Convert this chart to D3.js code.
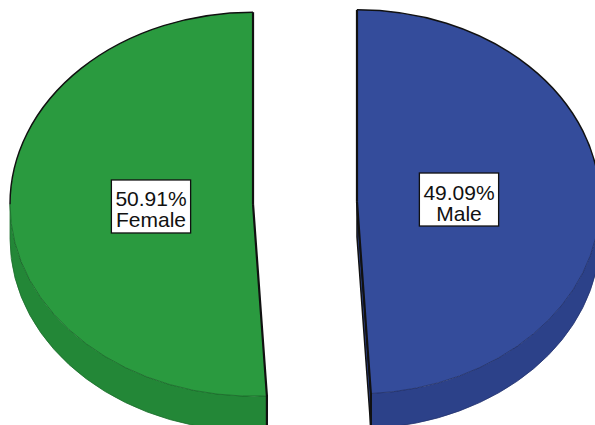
<!DOCTYPE html>
<html>
<head>
<meta charset="utf-8">
<script src="https://cdn.jsdelivr.net/npm/d3@7"></script>
<style>
  html, body { margin: 0; padding: 0; background: #fff; overflow: hidden; }
  text { font-family: "Liberation Sans", Arial, sans-serif; }
</style>
</head>
<body>
<svg id="chart" width="595" height="425"></svg>
<script>
// Gender split (percent of respondents)
const categories = ["Male", "Female"];
const percents = [49.09, 50.91];
const percentLabels = ["49.09%", "50.91%"];
const topColors = ["#344C9B", "#2A9A3F"];
const sideColors = ["#2C4189", "#238737"];

const W = 595, H = 425;
const cx = 305, cy = 203;      // pie centre before explosion
const rx = 243, ry = 192;      // ellipse radii of the tilted disc
const depth = 35;              // thickness of the disc on screen
const explode = 52;            // distance each slice is pulled out
const k = ry / rx;             // vertical squash
const dd = depth / k;          // thickness in un-squashed space

const svg = d3.select("#chart");
svg.append("rect").attr("width", W).attr("height", H).attr("fill", "#fff");

const data = categories.map((c, i) => ({
  name: c, value: percents[i], label: percentLabels[i],
  top: topColors[i], side: sideColors[i]
}));

const pie = d3.pie().sort(null).value(d => d.value);
const arcs = pie(data);
const arc = d3.arc().innerRadius(0).outerRadius(rx);

// everything below is drawn in circle space, then squashed vertically
const disc = svg.append("g")
  .attr("transform", `translate(${cx},${cy}) scale(1,${k})`);

const HALF = Math.PI / 2;
const rim = (a, ox, oy, dy = 0) => [ox + rx * Math.sin(a), oy - rx * Math.cos(a) + dy];

function arcSpan(p, ox, oy, r, a0, a1, ccw) {
  p.arc(ox, oy, r, a0 - HALF, a1 - HALF, ccw);
}

arcs.forEach(d => {
  const mid = (d.startAngle + d.endAngle) / 2;
  const ox = explode * Math.sin(mid);
  const oy = -explode * Math.cos(mid);
  d.ox = ox; d.oy = oy; d.mid = mid;
  const topFill = d.data.top, sideFill = d.data.side;

  const g = disc.append("g").attr("class", "slice");

  // visible outer wall (front half of the rim)
  const s = Math.max(d.startAngle, HALF);
  const e = Math.min(d.endAngle, 3 * HALF);
  if (s < e) {
    const p = d3.path();
    const p0 = rim(s, ox, oy);
    p.moveTo(p0[0], p0[1]);
    arcSpan(p, ox, oy, rx, s, e, false);
    const p1 = rim(e, ox, oy, dd);
    p.lineTo(p1[0], p1[1]);
    arcSpan(p, ox, oy + dd, rx, e, s, true);
    p.closePath();
    g.append("path")
      .attr("d", p.toString())
      .attr("fill", sideFill)
      .attr("stroke", d3.color(sideFill).darker(0.6))
      .attr("stroke-width", 0.8)
      .attr("vector-effect", "non-scaling-stroke");
  }

  // cut faces that turn toward the viewer
  const faces = [];
  if (Math.sin(d.endAngle) > 1e-6) faces.push(d.endAngle);
  if (Math.sin(d.startAngle) < -1e-6) faces.push(d.startAngle);
  faces.forEach(a => {
    const r0 = rim(a, ox, oy), r1 = rim(a, ox, oy, dd);
    const p = d3.path();
    p.moveTo(ox, oy);
    p.lineTo(r0[0], r0[1]);
    p.lineTo(r1[0], r1[1]);
    p.lineTo(ox, oy + dd);
    p.closePath();
    g.append("path")
      .attr("d", p.toString())
      .attr("fill", sideFill)
      .attr("stroke", "#111")
      .attr("stroke-width", 1.5)
      .attr("stroke-linejoin", "round")
      .attr("vector-effect", "non-scaling-stroke");
  });

  // top face
  g.append("path")
    .attr("d", arc(d))
    .attr("transform", `translate(${ox},${oy})`)
    .attr("fill", topFill);

  // soft front edge where top meets wall
  if (s < e) {
    const p = d3.path();
    const p0 = rim(s, ox, oy);
    p.moveTo(p0[0], p0[1]);
    arcSpan(p, ox, oy, rx, s, e, false);
    g.append("path")
      .attr("d", p.toString())
      .attr("fill", "none")
      .attr("stroke", d3.color(sideFill).darker(1.2))
      .attr("stroke-width", 0.8)
      .attr("stroke-opacity", 0.7)
      .attr("vector-effect", "non-scaling-stroke");
  }

  // black outline: back rim and the two cut edges
  const bs = [[d.startAngle, Math.min(d.endAngle, HALF)],
              [Math.max(d.startAngle, 3 * HALF), d.endAngle]];
  bs.forEach(([a0, a1]) => {
    if (a0 >= a1) return;
    const p = d3.path();
    const p0 = rim(a0, ox, oy);
    p.moveTo(p0[0], p0[1]);
    arcSpan(p, ox, oy, rx, a0, a1, false);
    g.append("path")
      .attr("d", p.toString())
      .attr("fill", "none")
      .attr("stroke", "#111")
      .attr("stroke-width", 1.5)
      .attr("vector-effect", "non-scaling-stroke");
  });

  [d.startAngle, d.endAngle].forEach(a => {
    const r0 = rim(a, ox, oy);
    const p = d3.path();
    p.moveTo(ox, oy);
    p.lineTo(r0[0], r0[1]);
    if (Math.cos(a) < 0) {               // edge continues down the wall
      const r1 = rim(a, ox, oy, dd);
      p.lineTo(r1[0], r1[1]);
    }
    g.append("path")
      .attr("d", p.toString())
      .attr("fill", "none")
      .attr("stroke", "#111")
      .attr("stroke-width", 2.2)
      .attr("stroke-linejoin", "round")
      .attr("vector-effect", "non-scaling-stroke");
  });
});

// value labels in white boxes
const labelR = 0.42 * rx;
arcs.forEach(d => {
  const lx = cx + d.ox + labelR * Math.sin(d.mid);
  const ly = cy + k * (d.oy - labelR * Math.cos(d.mid));
  const lg = svg.append("g")
    .attr("class", "label")
    .attr("transform", `translate(${lx},${ly})`);
  const box = lg.append("rect")
    .attr("fill", "#fff")
    .attr("stroke", "#111")
    .attr("stroke-width", 1.3);
  const t = lg.append("text")
    .attr("text-anchor", "middle")
    .attr("font-size", 21)
    .attr("fill", "#111");
  t.append("tspan").attr("x", 0).attr("y", 0).text(d.data.label);
  t.append("tspan").attr("x", 0).attr("y", 21).text(d.data.name);
  const w = Math.max(...t.selectAll("tspan").nodes().map(n => n.getComputedTextLength())) + 8;
  const h = 53;
  box.attr("x", -w / 2).attr("y", -h / 2).attr("width", w).attr("height", h);
});
</script>
</body>
</html>
